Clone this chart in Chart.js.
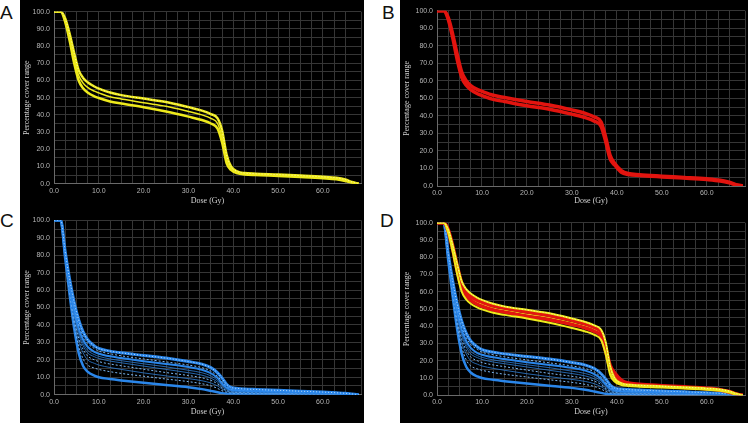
<!DOCTYPE html>
<html>
<head>
<meta charset="utf-8">
<script src="https://cdn.jsdelivr.net/npm/chart.js@4.4.1/dist/chart.umd.min.js"></script>
<style>
body { margin: 0; background: #fff; width: 750px; height: 423px; overflow: hidden; position: relative; font-family: "Liberation Sans", Arial, sans-serif; }
.bg { position: absolute; background: #000; }
.panel { position: absolute; height: 207px; }
.tag { position: absolute; font-size: 19px; line-height: 1; color: #111; }
</style>
</head>
<body>
<div class="bg" style="left:20px;top:0;width:344px;height:423px"></div>
<div class="bg" style="left:400px;top:0;width:348px;height:423px"></div>

<div class="tag" style="left:0;top:3px">A</div>
<div class="tag" style="left:382px;top:3px">B</div>
<div class="tag" style="left:0;top:211px">C</div>
<div class="tag" style="left:380px;top:211px">D</div>

<div class="panel" style="left:20px;top:0;width:344px"><canvas id="chartA"></canvas></div>
<div class="panel" style="left:400px;top:0;width:348px"><canvas id="chartB"></canvas></div>
<div class="panel" style="left:20px;top:211px;width:344px"><canvas id="chartC"></canvas></div>
<div class="panel" style="left:400px;top:211px;width:348px"><canvas id="chartD"></canvas></div>

<script>
// dose axis (Gy) shared by every curve
const dose = [0, 1.5, 2.5, 3.5, 4.5, 5.5, 6.5, 7.5, 9, 10, 12.5, 15, 20, 25, 30, 33, 35, 36.5, 37.5, 38.5, 39.5, 41, 42.5, 45, 50, 55, 60, 63, 65, 66.5, 68];

const doseTicks = [0, 10, 20, 30, 40, 50, 60];
const coverTicks = [0, 10, 20, 30, 40, 50, 60, 70, 80, 90, 100];

// panel A - yellow
const yellowUpper = [100, 100, 96, 87, 76, 66, 61.5, 59, 56.5, 55.3, 53, 51.5, 49.5, 47.5, 44.5, 42.5, 40.5, 38, 31, 17, 10, 7, 6.2, 5.8, 5.3, 4.7, 4, 3.4, 2.4, 1, 0];
const yellowMid = [100, 100, 95, 85, 73, 63, 58.5, 56, 53.8, 52.8, 50.5, 49.3, 47, 45, 42, 40, 38, 35, 27, 14, 9, 6.5, 5.8, 5.4, 4.9, 4.3, 3.6, 3, 2, 0.7, 0];
const yellowLower = [100, 100, 94, 83, 70, 60, 55.5, 53, 50.8, 49.8, 47.8, 46.6, 44.5, 42, 39, 37, 35, 32, 24, 12, 8, 6, 5.4, 5, 4.5, 3.9, 3.2, 2.6, 1.6, 0.5, 0];

// panel B - red
const redUpper = [100, 100, 96, 86.5, 75, 65, 60, 57.3, 55, 54, 51.8, 50.5, 48.2, 46.2, 43.4, 41.4, 39.4, 36.5, 28, 17.5, 13, 8.8, 7.1, 6.4, 5.6, 4.9, 4.1, 3.3, 2.2, 0.8, 0];
const redLower = [100, 100, 95, 84.5, 72, 62, 57.5, 55, 52.6, 51.6, 49.4, 48.2, 45.8, 43.8, 41, 39, 37, 34, 25.5, 15.5, 12, 7.8, 6.6, 6, 5.2, 4.5, 3.7, 2.9, 1.8, 0.6, 0];

// panel C - blue
const blue1 = [100, 100, 82, 66, 53, 43, 36, 31.5, 28, 26.5, 25, 24, 22.5, 21, 19, 17.5, 15.5, 12.5, 9.5, 6, 4.2, 3.6, 3.3, 3, 2.5, 2, 1.5, 1.1, 0.8, 0.4, 0];
const blue2 = [100, 100, 81, 64, 50, 40, 33.5, 29.5, 26.5, 25, 23.5, 22.3, 20.5, 18.8, 17, 15.5, 13.5, 10.5, 7.5, 4.8, 3.4, 2.9, 2.7, 2.5, 2.1, 1.7, 1.3, 1, 0.7, 0.3, 0];
const blue3 = [100, 100, 80.5, 63, 48, 38, 31.5, 27.5, 24.5, 23.5, 22, 21, 19.2, 17.6, 15.9, 14.3, 12.3, 9.5, 6.5, 4, 2.8, 2.4, 2.2, 2, 1.7, 1.4, 1.1, 0.8, 0.6, 0.3, 0];
const blue4 = [100, 100, 80, 62, 46.5, 36, 29.5, 25.5, 23, 22, 20.5, 19.5, 17.7, 16, 14, 12.6, 10.8, 8.2, 5.5, 3.4, 2.4, 2, 1.8, 1.7, 1.4, 1.2, 0.9, 0.7, 0.5, 0.2, 0];
const blue5 = [100, 100, 80, 61, 45, 34.5, 28, 24, 21.8, 20.8, 19.3, 18.3, 16.4, 14.5, 12.6, 11.2, 9.5, 7.2, 4.7, 2.9, 2, 1.7, 1.5, 1.4, 1.2, 1, 0.8, 0.6, 0.4, 0.2, 0];
const blue6 = [100, 100, 79.5, 60, 43.5, 32.5, 26, 22.2, 20, 19, 17.6, 16.6, 14.6, 12.7, 11, 9.7, 8.2, 6.2, 4, 2.5, 1.7, 1.4, 1.3, 1.2, 1, 0.8, 0.6, 0.5, 0.3, 0.1, 0];
const blue7 = [100, 100, 79, 59.5, 42, 30.5, 24, 20, 18, 17, 15.6, 14.5, 12.5, 10.8, 9.2, 8, 6.7, 5, 3.3, 2, 1.4, 1.2, 1.1, 1, 0.8, 0.7, 0.5, 0.4, 0.3, 0.1, 0];
const blue8 = [100, 100, 79, 58.5, 40.5, 28, 20.5, 17, 15.3, 14.5, 13.2, 12.2, 10.6, 9, 7.5, 6.3, 5.1, 3.6, 2.3, 1.4, 1, 0.9, 0.8, 0.7, 0.6, 0.5, 0.4, 0.3, 0.2, 0.1, 0];
const blue9 = [100, 100, 78, 57, 38, 24, 16.5, 13.2, 10.9, 10, 9, 8.2, 6.8, 5.6, 4.3, 3.2, 2.2, 1.4, 0.9, 0.6, 0.5, 0.4, 0.4, 0.3, 0.3, 0.2, 0.2, 0.1, 0.1, 0, 0];

const YELLOW = '#eeea1c', RED = '#e2140f', BLUE = '#2a86ea', DASHBLUE = '#7ab8f5', THINBLUE = '#2f7fd6';
const GRID = '#363636';

const toPoints = arr => dose.map((d, i) => ({x: d, y: arr[i]}));

const line = (arr, color, width, dash) => ({
    data: toPoints(arr),
    borderColor: color,
    borderWidth: width,
    borderDash: dash || [],
    pointRadius: 0,
    fill: false,
    cubicInterpolationMode: 'monotone'
});

const blueSets = () => [
    line(blue9, BLUE, 2.5),
    line(blue8, DASHBLUE, 1, [2, 2]),
    line(blue7, THINBLUE, 0.8),
    line(blue6, DASHBLUE, 1, [2, 2]),
    line(blue5, THINBLUE, 0.8),
    line(blue4, THINBLUE, 0.8),
    line(blue3, BLUE, 2),
    line(blue2, DASHBLUE, 1, [2, 2]),
    line(blue1, BLUE, 3),
    line(blue1, '#bfe0ff', 1, [1, 2])
];

const tickFont = {family: 'Liberation Sans', size: 7};
const titleFont = {family: 'Liberation Serif', size: 8};

const makeChart = (id, sets, yw, xh, padTop) => {
    // later datasets drawn on top
    sets.forEach((s, i) => { s.order = sets.length - i; });
    return new Chart(document.getElementById(id), {
        type: 'line',
        data: {datasets: sets},
        options: {
            responsive: true,
            maintainAspectRatio: false,
            animation: false,
            layout: {padding: {top: padTop, right: 0, left: 0, bottom: 0}},
            plugins: {legend: {display: false}, tooltip: {enabled: false}},
            scales: {
                x: {
                    type: 'linear', min: 0, max: 68.5,
                    ticks: {
                        stepSize: 2.5, autoSkip: false, maxRotation: 0, padding: 3,
                        color: '#b5b5b5', font: tickFont,
                        callback: v => doseTicks.includes(v) ? v.toFixed(1) : ''
                    },
                    grid: {color: GRID, drawTicks: false},
                    border: {color: '#6a6a6a'},
                    title: {display: true, text: 'Dose (Gy)', color: '#d2d2d2', font: titleFont, padding: {top: 0, bottom: 1}},
                    afterFit: s => { s.height = xh; }
                },
                y: {
                    min: 0, max: 100,
                    ticks: {
                        stepSize: 5, autoSkip: false, padding: 4,
                        color: '#b5b5b5', font: tickFont,
                        callback: v => coverTicks.includes(v) ? v.toFixed(1) : ''
                    },
                    grid: {color: GRID, drawTicks: false},
                    border: {color: '#6a6a6a'},
                    title: {display: true, text: 'Percentage cover range', color: '#d2d2d2', font: titleFont, padding: {top: 2, bottom: 0}},
                    afterFit: s => { s.width = yw; }
                }
            }
        }
    });
};

makeChart('chartA', [
    line(yellowLower, YELLOW, 2.5),
    line(yellowMid, YELLOW, 1.5),
    line(yellowUpper, YELLOW, 2.5),
    line(yellowUpper, '#fffbb0', 1, [1, 2])
], 34, 23.3, 11.7);

makeChart('chartB', [
    line(redLower, RED, 3.5),
    line(redUpper, RED, 3.5)
], 37, 21, 10.7);

makeChart('chartC', blueSets(), 34, 23.3, 9.3);

makeChart('chartD', [
    ...blueSets(),
    line(yellowMid, YELLOW, 1.5),
    line(redLower, RED, 3.5),
    line(redUpper, RED, 3.5),
    line(yellowLower, YELLOW, 2),
    line(yellowUpper, YELLOW, 2),
    line(yellowUpper, '#fffbb0', 1, [1, 2])
], 37, 22.7, 11.7);
</script>
</body>
</html>
